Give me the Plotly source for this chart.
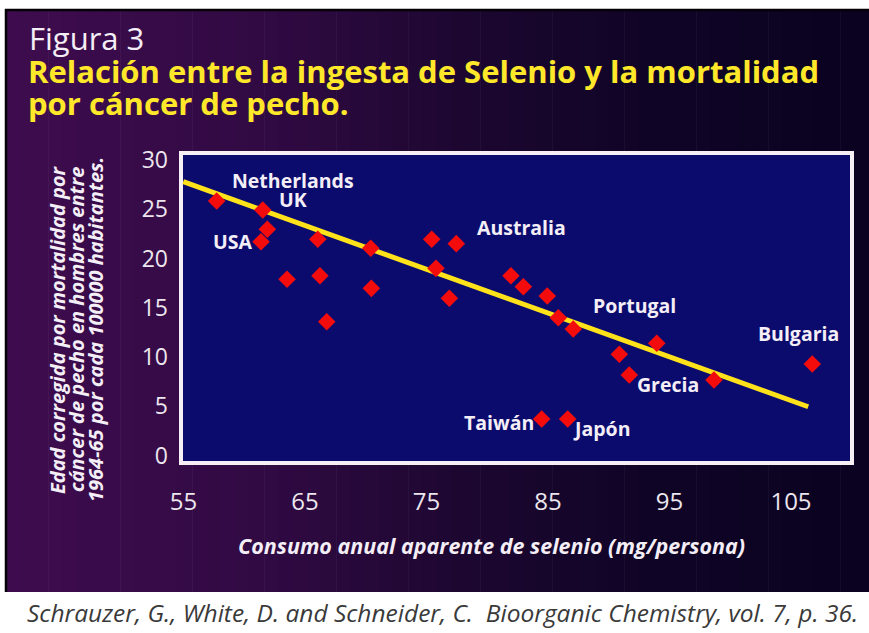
import plotly.graph_objects as go

# ---- data ----
selenio = [57.73, 61.52, 61.90, 61.38, 63.52, 66.05, 66.23, 66.79, 70.41, 70.46,
           75.43, 75.78, 76.88, 77.45, 81.95, 82.97, 84.94, 85.85, 87.08, 90.87,
           91.69, 93.95, 98.66, 106.75, 84.48, 86.62]
mortalidad = [25.84, 24.92, 22.96, 21.71, 17.89, 21.95, 18.25, 13.58, 21.04, 16.97,
              21.95, 19.00, 15.96, 21.51, 18.25, 17.14, 16.19, 13.99, 12.84, 10.27,
              8.17, 11.39, 7.66, 9.29, 3.71, 3.71]
trend_x = [54.98, 106.42]
trend_y = [27.8, 4.95]

label_text = ["Netherlands", "UK", "USA", "Australia", "Portugal", "Bulgaria", "Grecia", "Taiwán", "Japón"]
label_x = [64.05, 64.01, 59.03, 82.84, 92.08, 105.64, 94.84, 80.97, 89.42]
label_y = [27.97, 25.94, 21.71, 23.13, 15.18, 12.41, 7.16, 3.33, 2.76]

x_ticks = [55, 65, 75, 85, 95, 105]
y_ticks = [0, 5, 10, 15, 20, 25, 30]

ytitle_lines = ["Edad corregida por mortalidad por",
                "cáncer de pecho en hombres entre",
                "1964-65 por cada 100000 habitantes."]

W, H = 869, 633
L, R, T, B = 181, 852, 153, 463

def px(xp):
    return (xp - L) / (R - L)

def py(yp):
    return (B - yp) / (B - T)

FONT = "Open Sans"
WHITE = "#f4eef6"

fig = go.Figure()

fig.add_trace(go.Scatter(x=trend_x, y=trend_y, mode="lines",
                         line=dict(color="#ffe21a", width=5), hoverinfo="skip"))
fig.add_trace(go.Scatter(x=selenio, y=mortalidad, mode="markers",
                         marker=dict(symbol="diamond", size=13.5, color="#f40c0c",
                                     line=dict(width=0)), hoverinfo="skip"))

# background gradient strips
def lerp(c1, c2, t):
    return tuple(int(round(a + (b - a) * t)) for a, b in zip(c1, c2))

stops = [(5, (62, 12, 78)), (250, (50, 10, 68)), (450, (30, 7, 50)), (650, (16, 4, 38)), (869, (10, 2, 32))]
shapes = []
n = 60
x0, x1 = 5, 869
for i in range(n):
    a = x0 + (x1 - x0) * i / n
    b = x0 + (x1 - x0) * (i + 1) / n
    m = (a + b) / 2
    for (sa, ca), (sb, cb) in zip(stops[:-1], stops[1:]):
        if sa <= m <= sb:
            c = lerp(ca, cb, (m - sa) / (sb - sa))
            break
    shapes.append(dict(type="rect", xref="paper", yref="paper", layer="below",
                       x0=px(a), x1=px(b + 0.6), y0=py(592), y1=py(9),
                       fillcolor="rgb(%d,%d,%d)" % c, line=dict(width=0)))
shapes.append(dict(type="line", xref="paper", yref="paper", layer="below",
                   x0=px(5), x1=px(869), y0=py(10), y1=py(10), line=dict(color="#050005", width=2.5)))
shapes.append(dict(type="line", xref="paper", yref="paper", layer="below",
                   x0=px(6), x1=px(6), y0=py(592), y1=py(9), line=dict(color="#050005", width=2.5)))
shapes.append(dict(type="rect", xref="paper", yref="paper", layer="below",
                   x0=0, x1=1, y0=0, y1=1, fillcolor="#0b0b6e",
                   line=dict(color="#f6f0f6", width=4)))

annotations = []
for t, x, y in zip(label_text, label_x, label_y):
    annotations.append(dict(x=x, y=y, xref="x", yref="y", text=t, showarrow=False,
                            font=dict(family=FONT, size=19.5, color=WHITE, weight="bold"),
                            xanchor="center", yanchor="middle"))

for i, line in enumerate(ytitle_lines):
    annotations.append(dict(x=px(57 + 19 * i), y=py(330), xref="paper", yref="paper",
                            text="<b><i>%s</i></b>" % line, showarrow=False, textangle=-90,
                            xanchor="center", yanchor="middle",
                            font=dict(family=FONT, size=20, color=WHITE)))

annotations += [
    dict(x=px(27), y=py(38), xref="paper", yref="paper", text="Figura 3", showarrow=False,
         xanchor="left", yanchor="middle", font=dict(family=FONT, size=31, color=WHITE)),
    dict(x=px(26), y=py(71), xref="paper", yref="paper",
         text="<b>Relación entre la ingesta de Selenio y la mortalidad</b>", showarrow=False,
         xanchor="left", yanchor="middle", font=dict(family=FONT, size=31, color="#ffe82a")),
    dict(x=px(26), y=py(103), xref="paper", yref="paper",
         text="<b>por cáncer de pecho.</b>", showarrow=False,
         xanchor="left", yanchor="middle", font=dict(family=FONT, size=31, color="#ffe82a")),
    dict(x=px(491), y=py(545), xref="paper", yref="paper",
         text="<b><i>Consumo anual aparente de selenio (mg/persona)</i></b>", showarrow=False,
         xanchor="center", yanchor="middle", font=dict(family=FONT, size=21.5, color=WHITE)),
    dict(x=px(442), y=py(612), xref="paper", yref="paper",
         text="<i>Schrauzer, G., White, D. and Schneider, C.  Bioorganic Chemistry, vol. 7, p. 36.</i>",
         showarrow=False, xanchor="center", yanchor="middle",
         font=dict(family=FONT, size=24.5, color="#3a3a3a")),
]

fig.update_layout(
    width=W, height=H,
    margin=dict(l=L, r=W - R, t=T, b=H - B, pad=0),
    paper_bgcolor="white", plot_bgcolor="rgba(0,0,0,0)",
    showlegend=False,
    shapes=shapes, annotations=annotations,
    xaxis=dict(range=[55 + (L - 183.5) / 12.15, 55 + (R - 183.5) / 12.15],
               tickvals=x_ticks, ticktext=[str(v) for v in x_ticks],
               showgrid=False, zeroline=False, showline=False, ticks="",
               ticklabelstandoff=22,
               tickfont=dict(family=FONT, size=24, color="#ece6ee")),
    yaxis=dict(range=[(455.5 - B) / 9.85, (455.5 - T) / 9.85],
               tickvals=y_ticks, ticktext=[str(v) for v in y_ticks],
               showgrid=False, zeroline=False, showline=False, ticks="",
               ticklabelstandoff=12,
               tickfont=dict(family=FONT, size=23, color="#ece6ee")),
)

fig.write_html("out.html", config={"displayModeBar": False},
               post_script="document.body.style.margin='0px';document.body.style.overflow='hidden';")
